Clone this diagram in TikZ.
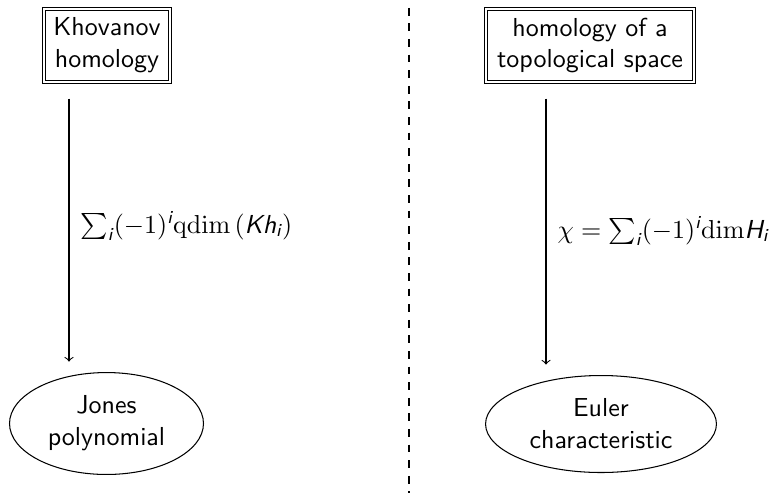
\documentclass[tikz,border=0pt]{standalone}
\usepackage{amsmath}
\usetikzlibrary{shapes.geometric}
% sans-serif slanted letters used inside the formulas
\newcommand{\sv}[1]{\textsf{\slshape #1}}
\begin{document}
\begin{tikzpicture}[
  x=0.3846pt, y=-0.3846pt,
  font=\sffamily,
  boxtext/.style={font=\sffamily\fontsize{10pt}{12.3pt}\selectfont},
  homol/.style={draw, double, rectangle, align=center, inner sep=0pt, boxtext},
  invar/.style={draw, ellipse, align=center, inner sep=0pt, boxtext},
  map/.style={->, shorten <=6.1pt, shorten >=4pt},
  maplabel/.style={anchor=base west, inner sep=0pt}
]
\useasboundingbox (0,0) rectangle (779,493);

% homology theories (top row)
\node[homol, minimum width=48.6pt, minimum height=28.2pt] (kh) at (107,45.5) {Khovanov\\homology};
\node[homol, minimum width=80.2pt, minimum height=28.2pt] (top) at (590,45.5) {homology of a\\topological space};

% their decategorifications (bottom row)
\node[invar, minimum width=74.6pt, minimum height=39.2pt] (jones) at (106.5,423.5) {Jones\\polynomial};
\node[invar, minimum width=88.8pt, minimum height=37.3pt] (euler) at (601,424) {Euler\\characteristic};

% columns of the two arrows
\coordinate (lx) at (69,0);
\coordinate (rx) at (546,0);

\draw[map] (kh.south -| lx) -- (jones.north -| lx);
\draw[map] (top.south -| rx) -- (euler.north -| rx);

\node[maplabel] (lablA) at (80,233) {$\sum_{\sv{i}}(-1)^{\sv{i}}\mathrm{qdim}\left(\sv{Kh}_{\sv{i}}\right)$};
\node[maplabel] (lablB) at (557,238) {$\chi=\sum_{\sv{i}}(-1)^{\sv{i}}\mathrm{dim}\sv{H}_{\sv{i}}$};

% divider between the two columns
\coordinate (divtop) at (409,0);
\coordinate (divbot) at (409,493);
\draw[dashed, dash phase=3pt] (divtop) -- (divbot);
\end{tikzpicture}
\end{document}
